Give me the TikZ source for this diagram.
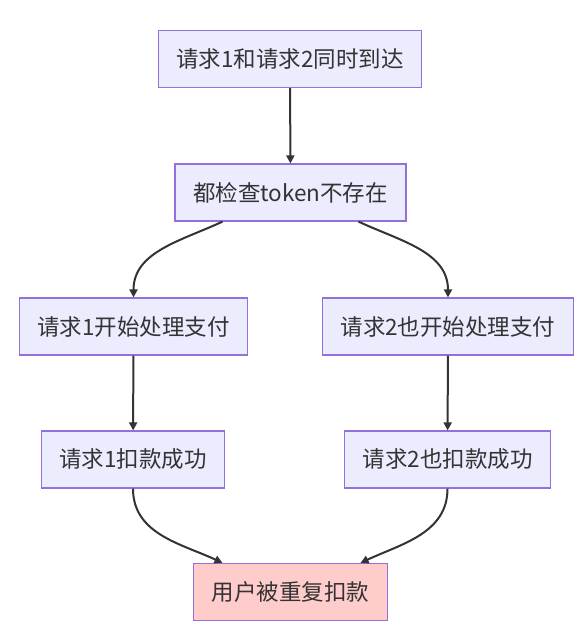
\documentclass[tikz,border=0pt]{standalone}
\usepackage{fontspec}
\usepackage{xcolor}
\usetikzlibrary{arrows.meta}
\newfontfamily\cjk{Noto Sans CJK SC}

\definecolor{boxfill}{HTML}{ECECFF}
\definecolor{boxline}{HTML}{9370DB}
\definecolor{badfill}{HTML}{FFCCCC}
\definecolor{inkgray}{HTML}{333333}

\begin{document}
\begin{tikzpicture}[x=1pt, y=-1pt,
  stepbox/.style={draw=boxline, fill=boxfill, line width=1.2pt, text=inkgray,
    font=\cjk\fontsize{22.5}{26}\selectfont, inner xsep=18pt,
    minimum height=57pt},
  badbox/.style={stepbox, fill=badfill},
  flow/.style={draw=inkgray, line width=2pt, -{Triangle[length=8pt,width=8pt]}}]

\useasboundingbox (0,0) rectangle (586,639);

% Nodes
\node[stepbox] (both)  at (290,59)    {请求1和请求2同时到达};
\node[stepbox] (check) at (290.5,192.5) {都检查token不存在};
\node[stepbox] (payA)  at (133.5,326.5) {请求1开始处理支付};
\node[stepbox] (payB)  at (448,326.5)   {请求2也开始处理支付};
\node[stepbox] (okA)   at (133,459.5)   {请求1扣款成功};
\node[stepbox] (okB)   at (447.5,459.5) {请求2也扣款成功};
\node[badbox]  (twice) at (290.5,592)   {用户被重复扣款};

% Edges
\draw[flow] (both) -- (check);
\draw[flow] ([xshift=-68pt]check.south) to[out=-155, in=90] (payA.north);
\draw[flow] ([xshift=68pt]check.south) to[out=-25, in=90] (payB.north);
\draw[flow] (payA) -- (okA);
\draw[flow] (payB) -- (okB);
\draw[flow] (okA.south) to[out=-90, in=155] ([xshift=-68pt]twice.north);
\draw[flow] (okB.south) to[out=-90, in=25] ([xshift=70pt]twice.north);

\end{tikzpicture}
\end{document}
